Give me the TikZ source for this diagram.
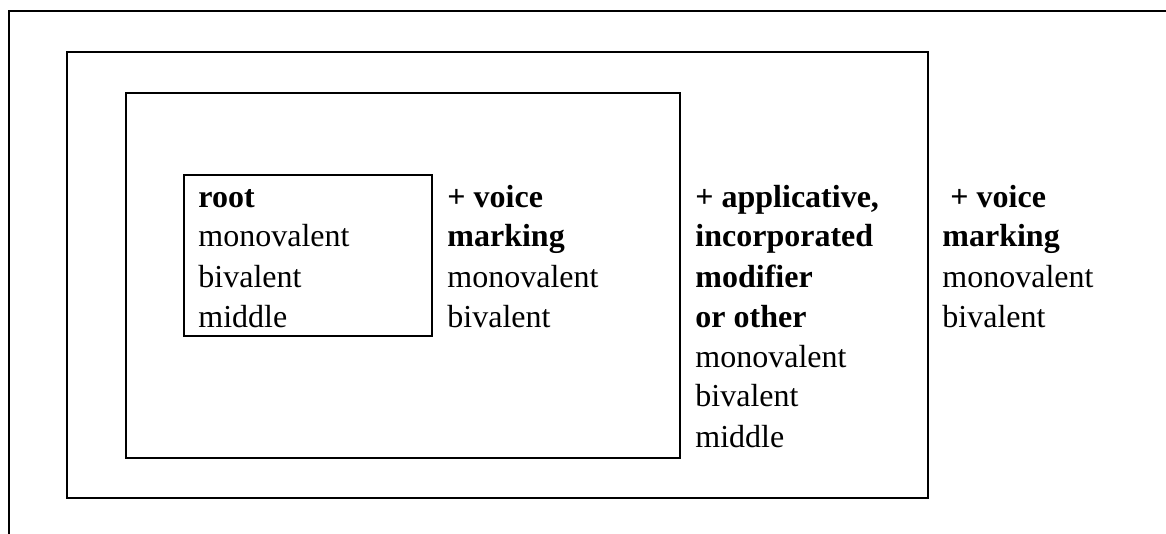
\documentclass[tikz,border=0pt]{standalone}
\usepackage{fontspec}
\setmainfont{Liberation Serif}
\tikzset{
  frameline/.style={line width=1pt, line join=miter},
  column/.style={anchor=base west, inner sep=0pt, text width=100pt, align=flush left,
    font=\fontsize{16}{20}\selectfont,
    execute at begin node={\spaceskip=0pt\xspaceskip=0pt\relax}},
}
\begin{document}
\begin{tikzpicture}[x=0.5pt, y=-0.5pt]
 \useasboundingbox (0,0) rectangle (1166,534);
 % frames
 \draw[frameline] (9,534) -- (9,11) -- (1166,11);
 \draw[frameline] (67,52) rectangle (928,498);
 \draw[frameline] (126,93) rectangle (680,458);
 \draw[frameline] (184,175) rectangle (432,336);

 \node[column] at (198, 207) (root) {\textbf{root}\\monovalent\\bivalent\\middle};
 \node[column] at (447, 207) (voiceA) {\textbf{+ voice}\\\textbf{marking}\\monovalent\\bivalent};
 \node[column] at (695, 207) (appl) {\textbf{+ applicative,}\\\textbf{incorporated}\\\textbf{modifier}\\\textbf{or other}\\monovalent\\bivalent\\middle};
 \node[column] at (942, 207) (voiceB) {\hspace*{4pt}\textbf{+ voice}\\\textbf{marking}\\monovalent\\bivalent};
\end{tikzpicture}
\end{document}
